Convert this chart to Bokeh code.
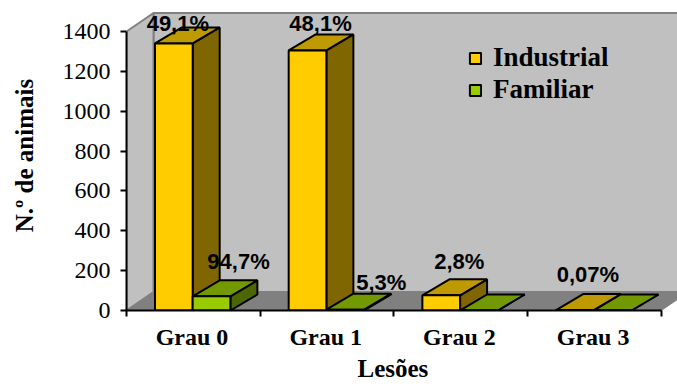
from bokeh.embed import file_html
from bokeh.resources import INLINE
from bokeh.plotting import figure
from bokeh.models import FixedTicker, Legend, LegendItem, Range1d, ColumnDataSource, Title
from bokeh.core.properties import value

# Lesion grades and animal counts per production system
categories = ["Grau 0", "Grau 1", "Grau 2", "Grau 3"]
industrial = [1340, 1305, 76, 2]
familiar = [71, 4, 0, 0]
industrial_pct = ["49,1%", "48,1%", "2,8%", "0,07%"]
familiar_pct = ["94,7%", "5,3%", "", ""]
y_ticks = [0, 200, 400, 600, 800, 1000, 1200, 1400]

# Oblique projection used for the pseudo-3D look, in data units
PX_X = 133.7
PX_Y = 279 / 1400
BAR_DX, BAR_DY = 27 / PX_X, 16 / PX_Y
WALL_DX, WALL_DY = 27 / PX_X, 18.5 / PX_Y
BAR_START, BAR_W = 0.213, 0.282
X_END = (677 - 126) / PX_X
Y_END = 310 / PX_Y

p = figure(width=677, height=389, output_backend="svg", toolbar_location=None,
           x_range=Range1d(0, X_END), y_range=Range1d(0, Y_END),
           min_border_left=126, min_border_right=0, min_border_top=0, min_border_bottom=79)
p.outline_line_color = None
p.grid.visible = False

# Chart box: back wall, side wall and floor
p.patch([WALL_DX, X_END + 0.1, X_END + 0.1, WALL_DX], [WALL_DY, WALL_DY, 1400 + WALL_DY, 1400 + WALL_DY],
        fill_color="#C0C0C0", line_color="#808080", line_width=2)
p.patch([0, WALL_DX, WALL_DX, 0], [0, WALL_DY, 1400 + WALL_DY, 1400],
        fill_color="#C0C0C0", line_color="#808080", line_width=2)
p.patch([0, 4, 4 + WALL_DX, WALL_DX], [0, 0, WALL_DY, WALL_DY],
        fill_color="#808080", line_color="#808080", line_width=1)


def draw_series(values, offset, front, side, top):
    lefts = [i + BAR_START + offset * BAR_W for i in range(len(values))]
    rights = [x + BAR_W for x in lefts]
    p.patches([[r, r + BAR_DX, r + BAR_DX, r] for r in rights],
              [[0, BAR_DY, v + BAR_DY, v] for v in values],
              fill_color=side, line_color="black", line_width=2)
    p.patches([[l, r, r + BAR_DX, l + BAR_DX] for l, r in zip(lefts, rights)],
              [[v, v, v + BAR_DY, v + BAR_DY] for v in values],
              fill_color=top, line_color="black", line_width=2)
    return p.quad(left=lefts, right=rights, bottom=0, top=values,
                  fill_color=front, line_color="black", line_width=2)


r_ind = draw_series(industrial, 0, "#FFCC00", "#7F6600", "#BF9900")
r_fam = draw_series(familiar, 1, "#99CC00", "#4C6600", "#739900")

# Percentage labels sit at hand-tuned pixel offsets from each bar's top
ind_offsets = [(4, -20), (13, -27), (18, -34), (13, -36)]
fam_offsets = [(27, -35), (36, -27), (0, 0), (0, 0)]
for vals, pcts, off, shift in ((industrial, industrial_pct, ind_offsets, 0), (familiar, familiar_pct, fam_offsets, 1)):
    src = ColumnDataSource(dict(
        x=[i + BAR_START + (shift + 0.5) * BAR_W for i in range(len(vals))],
        y=vals, t=pcts,
        dx=[o[0] for o in off], dy=[o[1] for o in off]))
    p.text("x", "y", text="t", x_offset="dx", y_offset="dy", source=src,
           text_font=value("Liberation Sans"), text_font_style="bold", text_font_size="22px",
           text_align="center", text_baseline="middle", text_color="black")

# Axes
xa = p.xaxis[0]
xa.ticker = FixedTicker(ticks=[i + 0.49 for i in range(4)], minor_ticks=list(range(5)))
xa.major_label_overrides = {i + 0.49: c for i, c in enumerate(categories)}
xa.bounds = (0, 4)
xa.major_tick_out = 0
xa.major_tick_in = 0
xa.minor_tick_out = 6
xa.minor_tick_in = 0
xa.minor_tick_line_width = 2
xa.axis_line_width = 2
xa.axis_line_color = "black"
xa.major_label_text_font = "Liberation Serif"
xa.major_label_text_font_style = "bold"
xa.major_label_text_font_size = "24px"
xa.major_label_text_color = "black"
xa.major_label_standoff = 7

# The x title sits left of the frame's centre, so it is laid out as a left-aligned title
p.add_layout(Title(text="Lesões", align="left", offset=231, standoff=0, text_line_height=1.35,
                   text_font="Liberation Serif", text_font_style="bold", text_font_size="25px",
                   text_color="black"), "below")

ya = p.yaxis[0]
ya.ticker = FixedTicker(ticks=y_ticks)
ya.bounds = (0, 1400)
ya.minor_tick_line_color = None
ya.major_tick_out = 6
ya.major_tick_in = 0
ya.major_tick_line_width = 2
ya.axis_line_width = 2
ya.axis_line_color = "black"
ya.major_label_text_font = "Liberation Serif"
ya.major_label_text_font_size = "24px"
ya.major_label_text_color = "black"
ya.major_label_standoff = 10
ya.axis_label = "N.º de animais"
ya.axis_label_text_font = "Liberation Serif"
ya.axis_label_text_font_style = "bold"
ya.axis_label_text_font_size = "25px"
ya.axis_label_text_color = "black"
ya.axis_label_standoff = 22

legend = Legend(items=[LegendItem(label="Industrial", renderers=[r_ind]),
                       LegendItem(label="Familiar", renderers=[r_fam])],
                location=(342, 205), background_fill_alpha=0, border_line_alpha=0,
                glyph_width=14, glyph_height=14, spacing=1, label_standoff=11,
                label_text_font="Liberation Serif", label_text_font_style="bold",
                label_text_font_size="27px", label_text_color="black", margin=0, padding=0)
p.add_layout(legend, "center")

open("out.html", "w").write(file_html(p, INLINE))
